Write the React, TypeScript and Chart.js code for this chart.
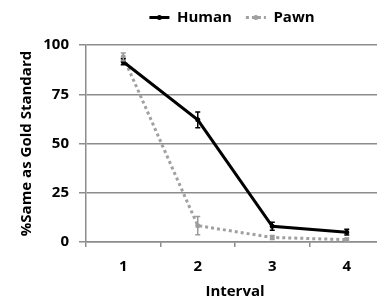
import React, { useEffect, useRef } from "react";
import { Chart, registerables } from "chart.js";

Chart.register(...registerables);

const categories = ["1", "2", "3", "4"];
const humanValues = [91.5, 62, 8, 5];
const humanErrors = [1.5, 4, 2, 1.5];
const pawnValues = [94, 8.3, 2.3, 1.2];
const pawnErrors = [2, 4.6, 1, 0.8];
const yTicks = [0, 25, 50, 75, 100];

const FONT = "'Open Sans'";

const errorBarPlugin = {
  id: "errorBars",
  afterDatasetsDraw(chart: any) {
    const ctx = chart.ctx;
    const x = chart.scales.x;
    const y = chart.scales.y;
    chart.data.datasets.forEach((ds: any) => {
      const errs: number[] = ds.errors || [];
      ctx.save();
      ctx.strokeStyle = ds.errorColor;
      ctx.lineWidth = 1.5;
      ds.data.forEach((v: number, i: number) => {
        const px = x.getPixelForValue(i);
        const top = y.getPixelForValue(v + errs[i]);
        const bot = y.getPixelForValue(v - errs[i]);
        ctx.beginPath();
        ctx.moveTo(px, top);
        ctx.lineTo(px, bot);
        ctx.moveTo(px - 2.5, top);
        ctx.lineTo(px + 2.5, top);
        ctx.moveTo(px - 2.5, bot);
        ctx.lineTo(px + 2.5, bot);
        ctx.stroke();
      });
      ctx.restore();
    });
  },
};

const legendSpacer = {
  id: "legendSpacer",
  beforeInit(chart: any) {
    const orig = chart.legend.fit;
    chart.legend.fit = function () {
      orig.call(this);
      this.height = 45;
    };
  },
  afterLayout(chart: any) {
    chart.legend.top -= 4;
    chart.legend.bottom -= 4;
    chart.legend.left -= 3;
    chart.legend.right -= 3;
  },
  afterDraw(chart: any) {
    const lg = chart.legend;
    if (!lg || !lg.legendHitBoxes) return;
    const ctx = chart.ctx;
    lg.legendHitBoxes.forEach((hb: any, i: number) => {
      const ds = chart.data.datasets[i];
      ctx.save();
      ctx.fillStyle = ds.borderColor;
      ctx.beginPath();
      ctx.arc(hb.left + 10, hb.top + hb.height / 2, 2.5, 0, Math.PI * 2);
      ctx.fill();
      ctx.restore();
    });
  },
};

export default function App() {
  const ref = useRef<HTMLCanvasElement>(null);
  useEffect(() => {
    if (!ref.current) return;
    const chart = new Chart(ref.current, {
      type: "line",
      data: {
        labels: categories,
        datasets: [
          {
            label: "Human",
            data: humanValues,
            errors: humanErrors,
            errorColor: "#000000",
            borderColor: "#000000",
            backgroundColor: "#000000",
            borderWidth: 3,
            pointRadius: 2.5,
            pointBorderWidth: 0,
            pointBackgroundColor: "#000000",
          } as any,
          {
            label: "Pawn",
            data: pawnValues,
            errors: pawnErrors,
            errorColor: "#9a9a9a",
            borderColor: "#a0a0a0",
            backgroundColor: "#a0a0a0",
            borderWidth: 3,
            borderDash: [3, 3],
            pointRadius: 2.5,
            pointBorderWidth: 0,
            pointBackgroundColor: "#a0a0a0",
          } as any,
        ],
      },
      options: {
        animation: false,
        responsive: false,
        maintainAspectRatio: false,
        layout: { padding: { top: 0, left: 0, right: 0, bottom: 0 } },
        plugins: {
          tooltip: { enabled: false },
          legend: {
            display: true,
            position: "top",
            fullSize: false,
            labels: {
              usePointStyle: true,
              pointStyle: "line",
              pointStyleWidth: 20,
              color: "#000000",
              padding: 14,
              font: { family: FONT, size: 15, weight: "bold" },
              generateLabels: (c: any) =>
                c.data.datasets.map((ds: any, i: number) => ({
                  text: ds.label,
                  fillStyle: ds.borderColor,
                  strokeStyle: ds.borderColor,
                  lineWidth: 3,
                  lineDash: ds.borderDash || [],
                  pointStyle: "line",
                  hidden: false,
                  datasetIndex: i,
                  fontColor: "#000000",
                })),
            },
          },
        },
        scales: {
          x: {
            type: "category",
            offset: true,
            afterFit(scale: any) {
              scale.height = 59;
            },
            grid: {
              offset: true,
              drawOnChartArea: false,
              drawTicks: true,
              tickLength: 5,
              color: "#8c8c8c",
              lineWidth: 1.5,
            },
            border: { color: "#8c8c8c", width: 1.5 },
            ticks: {
              color: "#000000",
              padding: 11,
              font: { family: FONT, size: 15, weight: "bold" },
            },
            title: {
              display: true,
              text: "Interval",
              color: "#000000",
              padding: { top: 0, bottom: 0 },
              font: { family: FONT, size: 15, weight: "bold" },
            },
          },
          y: {
            min: 0,
            max: 100,
            afterFit(scale: any) {
              scale.width = 86;
            },
            afterBuildTicks(scale: any) {
              scale.ticks = yTicks.map((v) => ({ value: v }));
            },
            grid: {
              color: "#8c8c8c",
              lineWidth: 1.5,
              tickLength: 7,
            },
            border: { color: "#8c8c8c", width: 1.5 },
            ticks: {
              color: "#000000",
              padding: 10,
              font: { family: FONT, size: 15, weight: "bold" },
            },
            title: {
              display: true,
              text: "%Same as Gold Standard",
              color: "#000000",
              padding: { top: 18, bottom: 0 },
              font: { family: FONT, size: 15, weight: "bold" },
            },
          },
        },
      } as any,
      plugins: [errorBarPlugin, legendSpacer],
    });
    return () => chart.destroy();
  }, []);
  return (
    <div
      style={{
        position: "fixed",
        left: 0,
        top: 0,
        width: 377,
        height: 299,
        overflow: "hidden",
        background: "#ffffff",
      }}
    >
      <canvas ref={ref} width={388} height={301} style={{ display: "block" }} />
    </div>
  );
}
